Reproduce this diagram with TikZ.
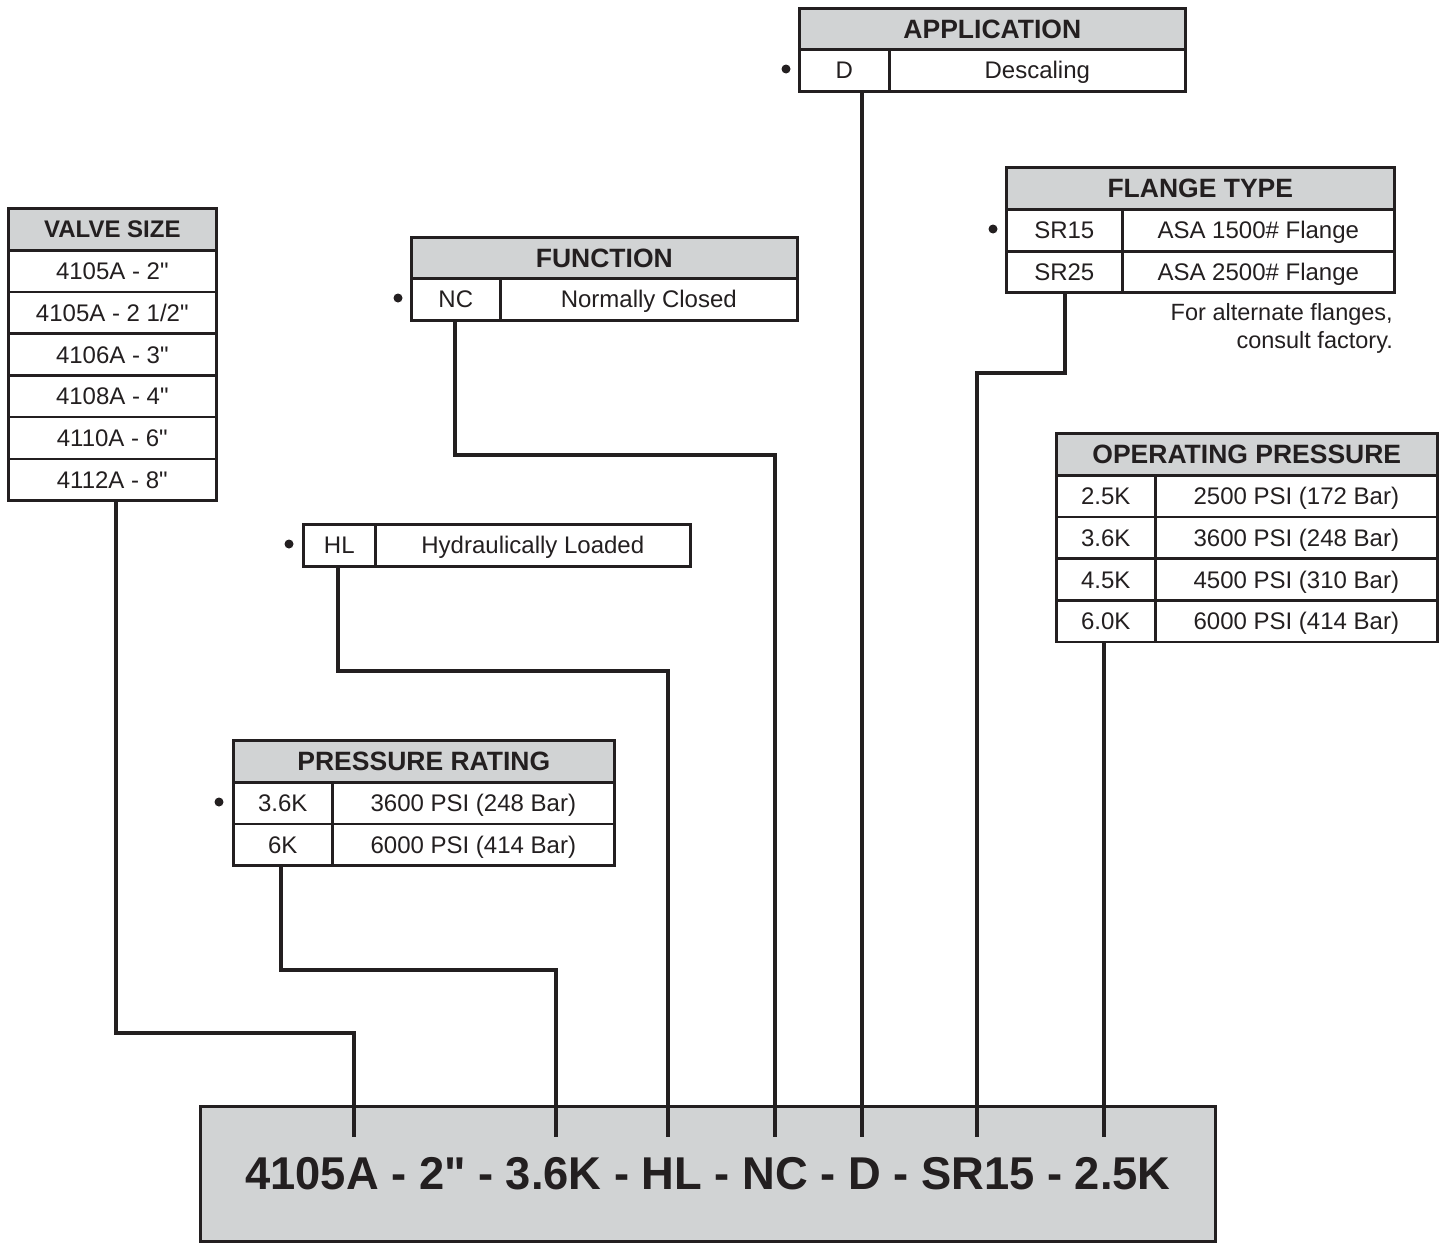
\documentclass[tikz,border=0pt]{standalone}
\usepackage{fontspec}
\setmainfont{Liberation Sans}[Ligatures=TeXOff]
\definecolor{hdr}{HTML}{D1D3D4}
\definecolor{ink}{HTML}{231F20}
\newcommand\mycell[7]{%
  \node[cellbox,#7,minimum width=#4pt,minimum height=#5pt] (#1) at (#2,#3) {#6};}
\begin{document}
\begin{tikzpicture}[x=1pt,y=-1pt,
  cellbox/.style={draw=ink,line width=2.6pt,inner sep=0pt,anchor=north west,
    fill=white,text=ink,font=\fontsize{24}{28}\selectfont,text height=17pt,text depth=0pt},
  headbox/.style={fill=hdr,font=\fontsize{26.5}{30}\selectfont\bfseries,text height=19pt},
  smallhead/.style={fill=hdr,font=\fontsize{24}{28}\selectfont\bfseries},
  plain/.style={},
  conn/.style={draw=ink,line width=3.3pt},
  bullet/.style={circle,fill=ink,inner sep=0pt,minimum size=9pt}]
\useasboundingbox (0,0) rectangle (1440,1242);

% bottom box
\node[draw=ink,fill=hdr,line width=2.6pt,anchor=north west,minimum width=1015pt,minimum height=135pt,inner sep=0pt] (model) at (199,1105) {};
\node[text=ink,font=\fontsize{46}{50}\selectfont\bfseries,xscale=0.985] (modeltxt) at (708,1174) {4105A - 2" - 3.6K - HL - NC - D - SR15 - 2.5K};

% VALVE SIZE
\mycell{vsh}{7}{207}{208}{42}{VALVE SIZE}{smallhead}
\mycell{vs1}{7}{249}{208}{41.7}{4105A - 2"}{plain}
\mycell{vs2}{7}{290.7}{208}{41.7}{4105A - 2 1/2"}{plain}
\mycell{vs3}{7}{332.4}{208}{41.7}{4106A - 3"}{plain}
\mycell{vs4}{7}{374.1}{208}{41.7}{4108A - 4"}{plain}
\mycell{vs5}{7}{415.8}{208}{41.7}{4110A - 6"}{plain}
\mycell{vs6}{7}{457.5}{208}{41.7}{4112A - 8"}{plain}

% APPLICATION
\mycell{aph}{798}{7}{386}{41}{APPLICATION}{headbox}
\mycell{apk}{798}{48}{90}{42}{D}{plain}
\mycell{apv}{888}{48}{296}{42}{Descaling}{plain}
\node[bullet] (apb) at (786,69) {};

% FLANGE TYPE
\mycell{flh}{1005}{166}{388}{42}{FLANGE TYPE}{headbox}
\mycell{flk1}{1005}{208}{116}{42}{SR15}{plain}
\mycell{flv1}{1121}{208}{272}{42}{ASA 1500\# Flange}{plain}
\mycell{flk2}{1005}{250}{116}{41}{SR25}{plain}
\mycell{flv2}{1121}{250}{272}{41}{ASA 2500\# Flange}{plain}
\node[bullet] (flb) at (993,229) {};
\node[anchor=north east,align=right,inner sep=0pt,text=ink,font=\fontsize{23.5}{28}\selectfont] (flnote) at (1393,303) {For alternate flanges,\\consult factory.};

% FUNCTION
\mycell{fnh}{410}{236}{386}{41}{FUNCTION}{headbox}
\mycell{fnk}{410}{277}{89}{42}{NC}{plain}
\mycell{fnv}{499}{277}{297}{42}{Normally Closed}{plain}
\node[bullet] (fnb) at (398,298) {};

% HL
\mycell{hlk}{302}{523}{72}{42}{HL}{plain}
\mycell{hlv}{374}{523}{315}{42}{Hydraulically Loaded}{plain}
\node[bullet] (hlb) at (289,544) {};

% OPERATING PRESSURE
\mycell{oph}{1055}{432}{381}{42}{OPERATING PRESSURE}{headbox}
\mycell{opk1}{1055}{474}{99}{41.7}{2.5K}{plain}
\mycell{opv1}{1154}{474}{282}{41.7}{2500 PSI (172 Bar)}{plain}
\mycell{opk2}{1055}{515.7}{99}{41.7}{3.6K}{plain}
\mycell{opv2}{1154}{515.7}{282}{41.7}{3600 PSI (248 Bar)}{plain}
\mycell{opk3}{1055}{557.4}{99}{41.7}{4.5K}{plain}
\mycell{opv3}{1154}{557.4}{282}{41.7}{4500 PSI (310 Bar)}{plain}
\mycell{opk4}{1055}{599.1}{99}{41.7}{6.0K}{plain}
\mycell{opv4}{1154}{599.1}{282}{41.7}{6000 PSI (414 Bar)}{plain}

% PRESSURE RATING
\mycell{prh}{232}{739}{381}{42}{PRESSURE RATING}{headbox}
\mycell{prk1}{232}{781}{99}{41.5}{3.6K}{plain}
\mycell{prv1}{331}{781}{282}{41.5}{3600 PSI (248 Bar)}{plain}
\mycell{prk2}{232}{822.5}{99}{41.5}{6K}{plain}
\mycell{prv2}{331}{822.5}{282}{41.5}{6000 PSI (414 Bar)}{plain}
\node[bullet] (prb) at (219,802) {};

% connector coordinates
\coordinate (vsout) at (116,499);
\coordinate (vsj) at (354,1033);
\coordinate (vsin) at (354,1137);
\coordinate (prout) at (281,864);
\coordinate (prj) at (556,970);
\coordinate (prin) at (556,1137);
\coordinate (hlout) at (338,565);
\coordinate (hlj) at (668,671);
\coordinate (hlin) at (668,1137);
\coordinate (fnout) at (455,319);
\coordinate (fnj) at (775,455);
\coordinate (fnin) at (775,1137);
\coordinate (apout) at (862,90);
\coordinate (apin) at (862,1137);
\coordinate (flout) at (1065,291);
\coordinate (flj) at (977,373);
\coordinate (flin) at (977,1137);
\coordinate (opout) at (1104,641);
\coordinate (opin) at (1104,1137);

\draw[conn] (vsout) |- (vsj) -- (vsin);
\draw[conn] (prout) |- (prj) -- (prin);
\draw[conn] (hlout) |- (hlj) -- (hlin);
\draw[conn] (fnout) |- (fnj) -- (fnin);
\draw[conn] (apout) -- (apin);
\draw[conn] (flout) |- (flj) -- (flin);
\draw[conn] (opout) -- (opin);
\end{tikzpicture}
\end{document}
